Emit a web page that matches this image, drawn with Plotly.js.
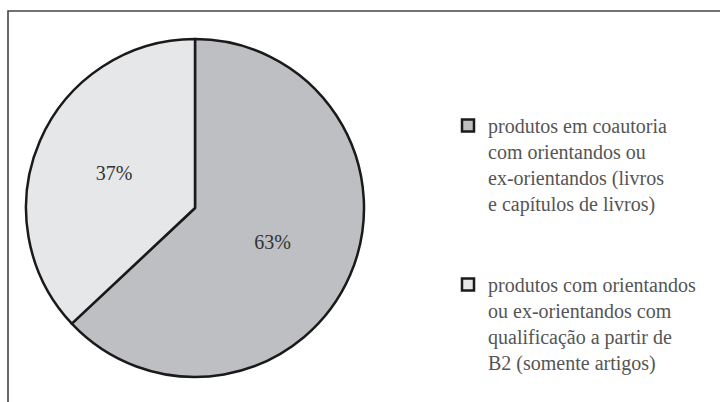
<!DOCTYPE html>
<html>
<head>
<meta charset="utf-8">
<script src="https://cdn.plot.ly/plotly-3.0.1.min.js"></script>
</head>
<body style="margin:0;background:#fff">
<div id="chart" style="width:720px;height:402px"></div>
<script>
const categories = [
  "produtos em coautoria<br>com orientandos ou<br>ex-orientandos (livros<br>e capítulos de livros)<br> <br> ",
  "produtos com orientandos<br>ou ex-orientandos com<br>qualificação a partir de<br>B2 (somente artigos)"
];
const shares = [63, 37];
const sliceColors = ["#bebfc2", "#e6e7e9"];

const W = 720, H = 402;
const cx = 195, cy = 208, R = 169;
const FONT = "Liberation Serif";

const trace = {
  type: "pie",
  labels: categories,
  values: shares,
  sort: false,
  direction: "clockwise",
  rotation: 0,
  textinfo: "percent",
  textfont: {family: FONT, size: 20, color: "#333"},
  marker: {colors: sliceColors, line: {color: "#1a1a1a", width: 2.5}},
  domain: {x: [(cx - R) / W, (cx + R) / W], y: [(H - cy - R) / H, (H - cy + R) / H]},
  hoverinfo: "none"
};

const layout = {
  width: W, height: H,
  margin: {l: 0, r: 0, t: 0, b: 0},
  paper_bgcolor: "#fff",
  font: {family: FONT, size: 20},
  showlegend: true,
  legend: {
    x: 448 / W, xanchor: "left",
    y: 1 - 106 / H, yanchor: "top",
    valign: "top",
    font: {family: FONT, size: 20, color: "#555"},
    bgcolor: "rgba(0,0,0,0)"
  },
  shapes: [
    {type: "path", xref: "paper", yref: "paper",
     path: "M " + (8 / W) + "," + (-0.05) + " L " + (8 / W) + "," + (1 - 11 / H) + " L 1.05," + (1 - 11 / H),
     line: {color: "#444", width: 1.6}}
  ]
};

function draw() {
  Plotly.newPlot("chart", [trace], layout, {staticPlot: true});
}
if (document.fonts && document.fonts.load) {
  Promise.all([
    document.fonts.load('20px "Liberation Serif"', 'produtos 63% ção í'),
    document.fonts.ready
  ]).then(draw, draw);
} else {
  draw();
}
</script>
</body>
</html>
